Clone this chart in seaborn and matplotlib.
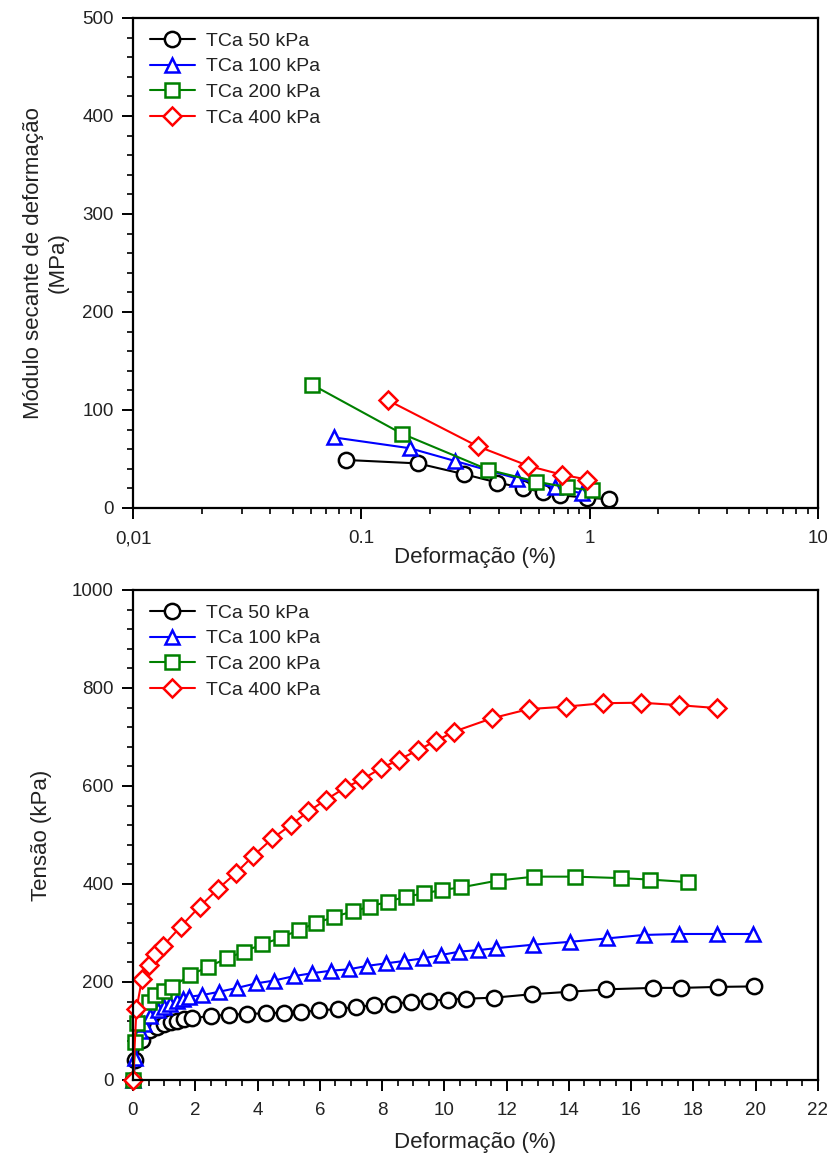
import numpy as np
import pandas as pd
import matplotlib
matplotlib.use("Agg")
import matplotlib.pyplot as plt
from matplotlib.ticker import MultipleLocator, LogLocator, NullFormatter
import seaborn as sns

# ---------------- data: top chart (secant modulus vs strain, log x) ----------------
series_labels = ["TCa 50 kPa", "TCa 100 kPa", "TCa 200 kPa", "TCa 400 kPa"]
series_colors = ["#000000", "#0000ff", "#008000", "#ff0000"]
series_markers = ["o", "^", "s", "D"]

mod50_x = [0.086, 0.177, 0.282, 0.394, 0.509, 0.627, 0.742, 0.97, 1.21]
mod50_y = [49, 45.5, 34.5, 26, 20.5, 16, 13, 10.5, 9]
mod100_x = [0.076, 0.163, 0.257, 0.482, 0.705, 0.923]
mod100_y = [72, 61, 48, 30, 21, 15]
mod200_x = [0.0607, 0.150, 0.360, 0.583, 0.798, 1.02]
mod200_y = [126, 76, 39, 27, 21, 18]
mod400_x = [0.1305, 0.323, 0.539, 0.755, 0.977]
mod400_y = [110, 63, 43, 34, 29]

top_xticks = [0.01, 0.1, 1, 10]
top_xticklabels = ["0,01", "0.1", "1", "10"]

# ---------------- data: bottom chart (stress vs strain) ----------------
t50_x = [0, 0.08, 0.3, 0.56, 0.78, 0.99, 1.21, 1.42, 1.63, 1.9, 2.49, 3.08, 3.67,
         4.26, 4.85, 5.4, 5.98, 6.57, 7.16, 7.75, 8.34, 8.93, 9.52, 10.11, 10.7,
         11.6, 12.8, 14.0, 15.2, 16.7, 17.6, 18.8, 19.95]
t50_y = [0, 41, 82, 102, 109, 114, 118, 121, 124, 126, 131, 133, 135,
         136, 137, 139, 142, 145, 149, 153, 156, 159, 162, 164, 166,
         168, 175, 180, 185, 188, 188, 190, 191]

t100_x = [0, 0.08, 0.22, 0.35, 0.56, 0.8, 1.0, 1.2, 1.4, 1.6, 1.8, 2.2, 2.76,
          3.35, 3.94, 4.53, 5.17, 5.76, 6.35, 6.94, 7.53, 8.12, 8.71, 9.30, 9.89,
          10.48, 11.07, 11.66, 12.84, 14.04, 15.23, 16.4, 17.55, 18.76, 19.92]
t100_y = [0, 45, 100, 115, 130, 143, 150, 156, 161, 166, 170, 173, 180,
          188, 197, 203, 212, 218, 223, 226, 233, 238, 243, 248, 255,
          262, 265, 269, 276, 282, 289, 296, 298, 298, 298]

t200_x = [0, 0.08, 0.13, 0.51, 0.72, 0.99, 1.26, 1.83, 2.41, 3.01, 3.56, 4.15,
          4.74, 5.32, 5.87, 6.46, 7.05, 7.61, 8.19, 8.76, 9.35, 9.94, 10.53,
          11.71, 12.89, 14.2, 15.68, 16.62, 17.82]
t200_y = [0, 78, 117, 160, 173, 181, 190, 214, 231, 248, 262, 277,
          290, 306, 320, 333, 344, 354, 364, 374, 381, 388, 393,
          407, 415, 415, 412, 409, 404]

t400_x = [0, 0.11, 0.29, 0.51, 0.72, 0.97, 1.53, 2.14, 2.73, 3.30, 3.87, 4.48,
          5.06, 5.63, 6.20, 6.80, 7.37, 7.96, 8.55, 9.14, 9.73, 10.31, 11.52,
          12.71, 13.91, 15.11, 16.32, 17.53, 18.76]
t400_y = [0, 144, 207, 235, 257, 274, 313, 354, 390, 422, 458, 493,
          520, 548, 572, 596, 614, 636, 654, 673, 692, 711, 738,
          757, 762, 769, 770, 765, 759]

# ---------------- styling ----------------
sns.set_theme(style="ticks")
plt.rcParams["font.family"] = ["Liberation Sans", "DejaVu Sans"]
plt.rcParams["axes.linewidth"] = 1.6
plt.rcParams["xtick.direction"] = "out"
plt.rcParams["ytick.direction"] = "out"

TICK_FS = 13.5
LABEL_FS = 16
LEG_FS = 14
marker_sizes = {"o": 11, "^": 10.5, "s": 9.8, "D": 9.4}

fig = plt.figure(figsize=(8.27, 11.67), dpi=100)
ax1 = fig.add_axes([133 / 827, 1 - 508 / 1167, 685 / 827, 490 / 1167])
ax2 = fig.add_axes([133 / 827, 1 - 1080 / 1167, 685 / 827, 490 / 1167])


def draw(ax, xs, ys):
    for x, y, lab, col, mk in zip(xs, ys, series_labels, series_colors, series_markers):
        df = pd.DataFrame({"x": x, "y": y})
        sns.lineplot(data=df, x="x", y="y", ax=ax, color=col, marker=mk,
                     markersize=marker_sizes[mk], markerfacecolor="white",
                     markeredgecolor=col, markeredgewidth=1.8, linewidth=1.5,
                     estimator=None, sort=False, label=lab, clip_on=False)


def style_axes(ax):
    for s in ax.spines.values():
        s.set_linewidth(1.6)
        s.set_color("black")
    ax.tick_params(which="major", length=8, width=1.4, labelsize=TICK_FS,
                   color="black", labelcolor="#222222", top=False, right=False)
    ax.tick_params(which="minor", length=4, width=1.2, color="black",
                   top=False, right=False)
    ax.tick_params(axis="y", which="major", pad=6)
    ax.tick_params(axis="x", which="major", pad=8)
    leg = ax.legend(loc="upper left", bbox_to_anchor=(17 / 685, 1 - 14 / 490),
                    frameon=False, fontsize=LEG_FS, borderpad=0, borderaxespad=0,
                    handlelength=2.3, handletextpad=0.6, labelspacing=0.42)
    for t in leg.get_texts():
        t.set_color("#222222")


# top chart
draw(ax1, [mod50_x, mod100_x, mod200_x, mod400_x], [mod50_y, mod100_y, mod200_y, mod400_y])
ax1.set_xscale("log")
ax1.set_xlim(0.01, 10)
ax1.set_ylim(0, 500)
ax1.set_xticks(top_xticks)
ax1.set_xticklabels(top_xticklabels)
ax1.xaxis.set_minor_locator(LogLocator(base=10, subs=np.arange(2, 10)))
ax1.xaxis.set_minor_formatter(NullFormatter())
ax1.yaxis.set_major_locator(MultipleLocator(100))
ax1.yaxis.set_minor_locator(MultipleLocator(20))
ax1.set_xlabel("Deformação (%)", fontsize=LABEL_FS, labelpad=0, color="#222222")
ax1.set_ylabel("Módulo secante de deformação\n(MPa)", fontsize=LABEL_FS,
               labelpad=10, color="#222222", linespacing=1.2)
style_axes(ax1)

# bottom chart
draw(ax2, [t50_x, t100_x, t200_x, t400_x], [t50_y, t100_y, t200_y, t400_y])
ax2.set_xlim(0, 22)
ax2.set_ylim(0, 1000)
ax2.xaxis.set_major_locator(MultipleLocator(2))
ax2.xaxis.set_minor_locator(MultipleLocator(0.5))
ax2.yaxis.set_major_locator(MultipleLocator(200))
ax2.yaxis.set_minor_locator(MultipleLocator(40))
ax2.set_xlabel("Deformação (%)", fontsize=LABEL_FS, labelpad=9, color="#222222")
ax2.set_ylabel("Tensão (kPa)", fontsize=LABEL_FS, labelpad=14, color="#222222")
style_axes(ax2)

fig.savefig("out.png", dpi=100)
